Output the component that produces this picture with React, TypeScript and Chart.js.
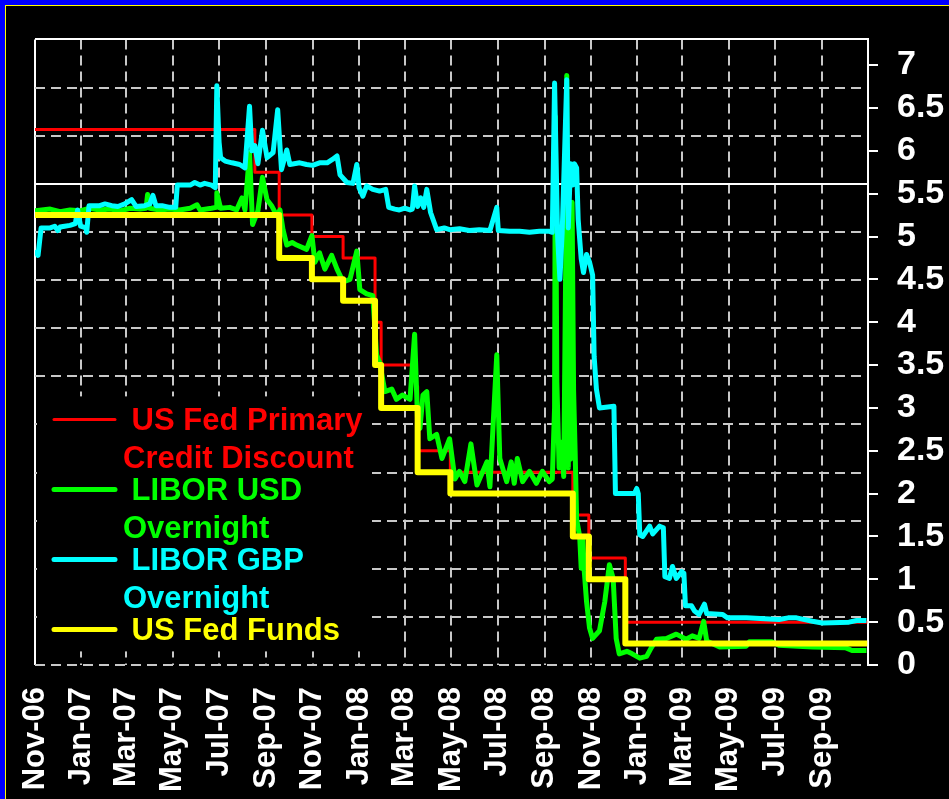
import React, { useEffect, useRef } from 'react';
import { Chart, registerables } from 'chart.js';

Chart.register(...registerables);

// ---- axis data ----
const xTickLabels = [
  'Nov-06', 'Jan-07', 'Mar-07', 'May-07', 'Jul-07', 'Sep-07', 'Nov-07', 'Jan-08', 'Mar-08',
  'May-08', 'Jul-08', 'Sep-08', 'Nov-08', 'Jan-09', 'Mar-09', 'May-09', 'Jul-09', 'Sep-09',
];
const yTickValues = [0, 0.5, 1, 1.5, 2, 2.5, 3, 3.5, 4, 4.5, 5, 5.5, 6, 6.5, 7];
const X_MAX_DAY = 1095; // days after 2006-11-01
const Y_MAX = 7.3;

// ---- series names (legend, wrapped as in the original) ----
const discountName = ['US Fed Primary', 'Credit Discount'];
const usdName = ['LIBOR USD', 'Overnight'];
const gbpName = ['LIBOR GBP', 'Overnight'];
const fundsName = ['US Fed Funds'];

// ---- step series (rate in force from each date) ----
const fedFundsDates = ['2006-11-01', '2007-09-18', '2007-10-31', '2007-12-11', '2008-01-22', '2008-01-30',
  '2008-03-18', '2008-04-30', '2008-10-08', '2008-10-29', '2008-12-16', '2009-10-30'];
const fedFundsRates = [5.25, 4.75, 4.5, 4.25, 3.5, 3.0, 2.25, 2.0, 1.5, 1.0, 0.25, 0.25];

const discountDates = ['2006-11-01', '2007-08-17', '2007-09-18', '2007-10-31', '2007-12-11', '2008-01-22',
  '2008-01-30', '2008-03-16', '2008-03-18', '2008-04-30', '2008-10-08', '2008-10-29', '2008-12-16', '2009-10-30'];
const discountRates = [6.25, 5.75, 5.25, 5.0, 4.75, 4.0, 3.5, 3.25, 2.5, 2.25, 1.75, 1.25, 0.5, 0.5];

// ---- LIBOR overnight series (x = days after 2006-11-01) ----
const gbpDays = [0, 4, 8, 20, 26, 30, 33, 39, 46, 53, 56, 60, 67, 68, 71, 85, 92, 101, 109, 118, 127, 133, 144, 151,
  155, 159, 167, 177, 185, 187, 204, 210, 217, 223, 232, 237, 239, 242, 244, 250, 259, 269, 276, 282, 285, 289, 293,
  299, 305, 313, 319, 324, 331, 335, 348, 357, 365, 374, 384, 391, 397, 401, 410, 418, 423, 426, 431, 436, 444, 453,
  461, 465, 473, 479, 486, 493, 496, 499, 503, 507, 511, 515, 520, 528, 538, 545, 558, 571, 584, 598, 607, 609, 624,
  637, 650, 663, 676, 680, 683, 687, 690, 693, 699, 701, 704, 707, 709, 712, 714, 718, 721, 725, 729, 733, 735, 738,
  742, 761, 763, 788, 791, 793, 795, 799, 808, 812, 821, 826, 828, 834, 838, 843, 850, 853, 855, 863, 867, 873, 880,
  883, 904, 910, 935, 978, 990, 1001, 1022, 1035, 1070, 1080, 1093];
const gbpRates = [4.84, 4.78, 5.10, 5.10, 5.12, 5.07, 5.11, 5.12, 5.13, 5.15, 5.31, 5.12, 5.10, 5.05, 5.36, 5.36, 5.38,
  5.36, 5.35, 5.38, 5.43, 5.35, 5.36, 5.38, 5.48, 5.36, 5.36, 5.34, 5.34, 5.60, 5.60, 5.63, 5.60, 5.62, 5.60, 5.57,
  6.76, 6.10, 5.92, 5.88, 5.86, 5.84, 5.80, 6.52, 6.00, 6.06, 5.85, 6.24, 5.92, 5.98, 6.48, 5.78, 6.01, 5.84, 5.86,
  5.84, 5.83, 5.86, 5.86, 5.90, 5.94, 5.72, 5.63, 5.62, 5.84, 5.57, 5.47, 5.59, 5.55, 5.53, 5.55, 5.34, 5.32, 5.31,
  5.33, 5.31, 5.32, 5.59, 5.35, 5.45, 5.34, 5.55, 5.28, 5.08, 5.10, 5.08, 5.09, 5.07, 5.08, 5.07, 5.34, 5.07, 5.06,
  5.06, 5.05, 5.06, 5.06, 5.05, 6.79, 5.00, 4.50, 5.05, 6.83, 5.10, 5.85, 5.60, 5.85, 5.80, 5.20, 4.74, 4.58, 4.79,
  4.70, 4.55, 3.60, 3.22, 3.00, 3.02, 2.00, 2.00, 2.06, 2.00, 1.52, 1.50, 1.62, 1.53, 1.62, 1.60, 1.03, 1.01, 1.15,
  1.01, 1.09, 1.07, 0.69, 0.69, 0.63, 0.59, 0.71, 0.60, 0.59, 0.55, 0.55, 0.53, 0.55, 0.55, 0.51, 0.49, 0.50, 0.52,
  0.52];

const usdDays = [0, 20, 33, 46, 59, 72, 85, 99, 112, 125, 138, 146, 148, 151, 164, 177, 190, 204, 213, 217, 232, 238,
  239, 244, 256, 265, 272, 276, 282, 286, 293, 299, 305, 311, 318, 322, 326, 331, 338, 344, 357, 364, 368, 374, 381,
  390, 397, 405, 414, 423, 427, 436, 444, 449, 453, 460, 469, 475, 483, 493, 499, 503, 506, 510, 515, 519, 528, 535,
  545, 552, 558, 565, 573, 581, 594, 598, 607, 611, 620, 626, 630, 634, 641, 650, 659, 667, 676, 680, 683, 684, 686,
  689, 692, 695, 698, 699, 700, 701, 703, 704, 706, 708, 710, 712, 716, 718, 720, 722, 725, 729, 733, 742, 749, 755,
  760, 764, 768, 778, 785, 795, 804, 810, 817, 830, 843, 856, 864, 873, 879, 883, 900, 935, 939, 969, 978, 1022,
  1066, 1074, 1093];
const usdRates = [5.30, 5.32, 5.29, 5.31, 5.30, 5.33, 5.31, 5.32, 5.30, 5.33, 5.32, 5.33, 5.49, 5.33, 5.31, 5.32,
  5.31, 5.33, 5.37, 5.31, 5.33, 5.34, 5.51, 5.33, 5.34, 5.31, 5.45, 5.31, 5.98, 5.14, 5.30, 5.69, 5.43, 5.36, 5.24,
  5.31, 5.08, 4.90, 4.93, 4.90, 4.85, 5.01, 4.70, 4.81, 4.62, 4.78, 4.62, 4.47, 4.50, 4.83, 4.38, 4.33, 4.31, 3.62,
  3.53, 3.19, 3.22, 3.10, 3.15, 3.10, 3.86, 2.84, 2.76, 3.15, 3.19, 2.64, 2.69, 2.41, 2.64, 2.17, 2.26, 2.14, 2.58,
  2.10, 2.37, 2.08, 3.62, 2.41, 2.14, 2.37, 2.12, 2.41, 2.14, 2.26, 2.12, 2.26, 2.14, 2.17, 3.00, 6.40, 3.30, 2.30,
  2.60, 2.20, 5.00, 6.88, 3.00, 2.30, 4.00, 2.40, 5.40, 3.20, 2.50, 1.70, 1.50, 1.13, 1.50, 1.10, 0.74, 0.43, 0.31,
  0.40, 0.74, 1.17, 1.01, 0.31, 0.13, 0.16, 0.13, 0.08, 0.10, 0.20, 0.30, 0.31, 0.36, 0.30, 0.34, 0.31, 0.51, 0.28,
  0.21, 0.22, 0.27, 0.27, 0.23, 0.21, 0.20, 0.17, 0.17];

// ---- colours ----
const RED = '#ff0000';
const GREEN = '#00ff00';
const CYAN = '#00ffff';
const YELLOW = '#ffff00';
const GRID_GREY = '#c8c8c8';
const FONT_FAMILY = 'Arial, "Liberation Sans", Helvetica, sans-serif';

// ---- helpers ----
const START = Date.UTC(2006, 10, 1);
const DAY_MS = 86400000;
const MONTHS: Record<string, number> = {
  Jan: 0, Feb: 1, Mar: 2, Apr: 3, May: 4, Jun: 5, Jul: 6, Aug: 7, Sep: 8, Oct: 9, Nov: 10, Dec: 11,
};
const dayOfIso = (iso: string) => {
  const [y, m, d] = iso.split('-').map(Number);
  return Math.round((Date.UTC(y, m - 1, d) - START) / DAY_MS);
};
const dayOfLabel = (lbl: string) => {
  const [mon, yy] = lbl.split('-');
  return Math.round((Date.UTC(2000 + Number(yy), MONTHS[mon], 1) - START) / DAY_MS);
};
const xTickDays = xTickLabels.map(dayOfLabel);
const pts = (xs: number[], ys: number[]) => xs.map((x, i) => ({ x, y: ys[i] }));

const legendEntries = [
  { lines: discountName, color: RED, width: 3 },
  { lines: usdName, color: GREEN, width: 5 },
  { lines: gbpName, color: CYAN, width: 5 },
  { lines: fundsName, color: YELLOW, width: 5 },
];

const boxLegend = {
  id: 'boxLegend',
  beforeDatasetsDraw(chart: any) {
    const { ctx, chartArea: a } = chart;
    ctx.save();
    ctx.fillStyle = '#000000';
    ctx.fillRect(a.left + 2, a.top + 357, 335, 255);
    ctx.font = `bold 31px ${FONT_FAMILY}`;
    ctx.textBaseline = 'alphabetic';
    ctx.textAlign = 'left';
    legendEntries.forEach((e, i) => {
      const cy = a.top + 380 + 70 * i;
      ctx.strokeStyle = e.color;
      ctx.lineWidth = e.width;
      ctx.lineCap = 'round';
      ctx.beginPath();
      ctx.moveTo(a.left + 19, cy);
      ctx.lineTo(a.left + 80, cy);
      ctx.stroke();
      ctx.fillStyle = e.color;
      e.lines.forEach((t, j) => {
        const text = j === 0 ? ' ' + t : t;
        ctx.fillText(text, a.left + 88, cy + 11 + 38 * j);
      });
    });
    ctx.restore();
  },
};

export default function App() {
  const ref = useRef<HTMLCanvasElement>(null);

  useEffect(() => {
    const canvas = ref.current;
    if (!canvas) return;
    const lineDefaults = {
      pointRadius: 0,
      pointHoverRadius: 0,
      tension: 0,
      borderJoinStyle: 'round' as const,
      fill: false,
      xAxisID: 'x',
      yAxisID: 'y',
    };
    const chart = new Chart(canvas, {
      type: 'line',
      data: {
        datasets: [
          {
            ...lineDefaults,
            label: discountName.join(' '),
            data: pts(discountDates.map(dayOfIso), discountRates),
            borderColor: RED,
            backgroundColor: RED,
            borderWidth: 3,
            stepped: 'before',
            order: 4,
          },
          {
            ...lineDefaults,
            label: usdName.join(' '),
            data: pts(usdDays, usdRates),
            borderColor: GREEN,
            backgroundColor: GREEN,
            borderWidth: 5,
            order: 3,
          },
          {
            ...lineDefaults,
            label: gbpName.join(' '),
            data: pts(gbpDays, gbpRates),
            borderColor: CYAN,
            backgroundColor: CYAN,
            borderWidth: 5,
            order: 2,
          },
          {
            ...lineDefaults,
            label: fundsName.join(' '),
            data: pts(fedFundsDates.map(dayOfIso), fedFundsRates),
            borderColor: YELLOW,
            backgroundColor: YELLOW,
            borderWidth: 6,
            stepped: 'before',
            order: 1,
          },
        ],
      },
      options: {
        responsive: false,
        animation: false,
        devicePixelRatio: 1,
        events: [],
        layout: { padding: { left: 35, top: 36, right: 0, bottom: 0 } },
        plugins: {
          legend: { display: false },
          tooltip: { enabled: false },
          title: { display: false },
        },
        scales: {
          x: {
            type: 'linear',
            position: 'bottom',
            min: 0,
            max: X_MAX_DAY,
            afterBuildTicks: (s: any) => {
              s.ticks = xTickDays.map((v) => ({ value: v }));
            },
            afterFit: (s: any) => {
              s.height = 134;
              s.paddingLeft = 0;
              s.paddingRight = 0;
            },
            ticks: {
              autoSkip: false,
              maxRotation: 90,
              minRotation: 90,
              padding: 22,
              color: '#ffffff',
              font: { family: FONT_FAMILY, size: 31, weight: 'bold' },
              callback: (_v: any, i: number) => xTickLabels[i],
            },
            grid: {
              drawTicks: false,
              lineWidth: 2,
              color: (c: any) => (c.tick && c.tick.value === 0 ? '#ffffff' : GRID_GREY),
            },
            border: {
              display: false,
              dash: (c: any) => (c.tick && c.tick.value === 0 ? [] : [10, 6]),
            },
          },
          yGrid: {
            type: 'linear',
            position: 'left',
            min: 0,
            max: 13,
            ticks: { display: false, stepSize: 1 },
            afterFit: (s: any) => {
              s.width = 0;
            },
            grid: {
              drawTicks: false,
              lineWidth: 2,
              color: (c: any) => (c.tick && (c.tick.value === 13 || c.tick.value === 10) ? '#ffffff' : GRID_GREY),
            },
            border: {
              display: false,
              dash: (c: any) => (c.tick && (c.tick.value === 13 || c.tick.value === 10) ? [] : [10, 6]),
            },
          },
          y: {
            type: 'linear',
            position: 'right',
            min: 0,
            max: Y_MAX,
            afterBuildTicks: (s: any) => {
              s.ticks = yTickValues.map((v) => ({ value: v }));
            },
            afterFit: (s: any) => {
              s.width = 81;
            },
            ticks: {
              padding: 19,
              color: '#ffffff',
              font: { family: FONT_FAMILY, size: 34, weight: 'bold' },
              callback: (v: any) => String(v),
            },
            grid: {
              drawOnChartArea: false,
              drawTicks: true,
              tickLength: 10,
              lineWidth: 2,
              color: '#ffffff',
            },
            border: { display: true, color: '#ffffff', width: 2 },
          },
        },
      },
      plugins: [boxLegend],
    } as any);
    return () => chart.destroy();
  }, []);

  return (
    <div
      style={{
        position: 'fixed',
        left: 0,
        top: 0,
        width: 949,
        height: 799,
        background: '#0000ff',
        overflow: 'hidden',
      }}
    >
      <div
        style={{
          position: 'absolute',
          left: 5,
          top: 5,
          right: 0,
          bottom: 0,
          background: '#000000',
          borderLeft: '1px solid #ffff00',
          borderTop: '1px solid #ffff00',
        }}
      />
      <canvas
        ref={ref}
        width={949}
        height={799}
        style={{ position: 'absolute', left: 0, top: 0, width: 949, height: 799 }}
      />
    </div>
  );
}
